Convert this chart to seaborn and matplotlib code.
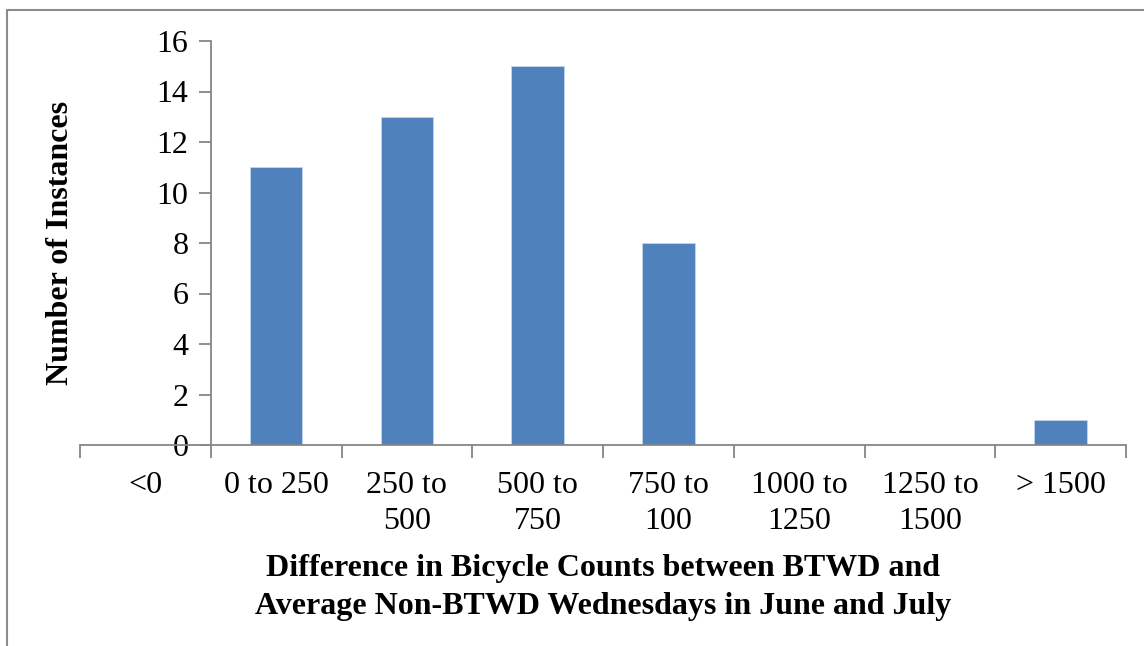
import matplotlib
matplotlib.use("Agg")
import matplotlib.pyplot as plt
from matplotlib.lines import Line2D
from matplotlib.ticker import FixedLocator
import seaborn as sns
import pandas as pd

categories = ["<0", "0 to 250", "250 to\n500", "500 to\n750", "750 to\n100",
              "1000 to\n1250", "1250 to\n1500", "> 1500"]
instances = [0, 11, 13, 15, 8, 0, 0, 1]
y_ticks = [0, 2, 4, 6, 8, 10, 12, 14, 16]

sns.set_theme(style="white")
plt.rcParams["font.family"] = ["Liberation Serif", "DejaVu Serif"]
plt.rcParams["text.color"] = "black"
plt.rcParams["axes.labelcolor"] = "black"
plt.rcParams["xtick.labelcolor"] = "black"
plt.rcParams["ytick.labelcolor"] = "black"

df = pd.DataFrame({"bin": categories, "count": instances})

W, H = 1144, 646
fig = plt.figure(figsize=(W / 100, H / 100), dpi=100)
ax = fig.add_axes([80 / W, 1 - 445 / H, (1126 - 80) / W, (445 - 41) / H])

axis_grey = "#868686"
sns.barplot(data=df, x="bin", y="count", color="#4F81BD", width=0.4,
            saturation=1, edgecolor="#C6D6EA", linewidth=0.6, ax=ax)

ax.set_xlim(-0.5, len(categories) - 0.5)
ax.set_ylim(0, 16)
ax.set_yticks(y_ticks)
ax.set_yticklabels([str(v) for v in y_ticks])

for side in ("top", "right"):
    ax.spines[side].set_visible(False)
ax.spines["left"].set_position(("data", 0.5))
for side in ("left", "bottom"):
    ax.spines[side].set_color(axis_grey)
    ax.spines[side].set_linewidth(1.3)

fs = 23
ax.tick_params(axis="y", which="major", direction="out", length=9, width=1.3,
               color=axis_grey, labelsize=fs, pad=7, left=True,
               labelcolor="black")
ax.tick_params(axis="x", which="major", length=0, labelsize=fs, pad=19,
               labelcolor="black")
ax.xaxis.set_minor_locator(FixedLocator([i - 0.5 for i in range(len(categories) + 1)]))
ax.tick_params(axis="x", which="minor", direction="out", length=9, width=1.3,
               color=axis_grey, bottom=True)
for lbl in ax.get_xticklabels():
    lbl.set_linespacing(1.3)

ax.set_xlabel("Difference in Bicycle Counts between BTWD and\n"
              "Average Non-BTWD Wednesdays in June and July",
              fontsize=fs, fontweight="bold", labelpad=13, linespacing=1.4,
              color="black")
ax.set_ylabel("Number of Instances", fontsize=fs, fontweight="bold",
              color="black")
ax.yaxis.set_label_coords(-0.005, 0.5)

# thin frame around the chart area
frame_kw = dict(color="#8C8C8C", linewidth=1.5, transform=fig.transFigure)
fig.add_artist(Line2D([7 / W, 7 / W], [0, 1 - 10 / H], **frame_kw))
fig.add_artist(Line2D([7 / W, 1], [1 - 10 / H, 1 - 10 / H], **frame_kw))

fig.savefig("out.png", dpi=100, facecolor="white")
